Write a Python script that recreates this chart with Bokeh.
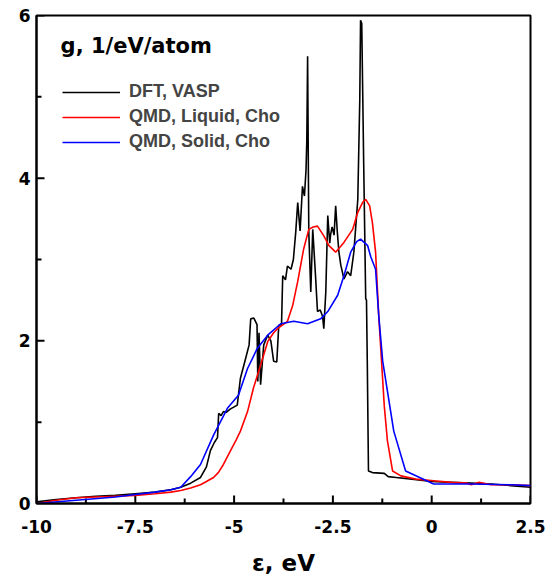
from bokeh.plotting import figure
from bokeh.models import FixedTicker, Legend, LegendItem, Label, Range1d
from bokeh.embed import file_html
from bokeh.resources import INLINE

x_ticks = [-10, -7.5, -5, -2.5, 0, 2.5]
x_minor = [-8.75, -6.25, -3.75, -1.25, 1.25]
x_tick_labels = ["-10", "-7.5", "-5", "-2.5", "0", "2.5"]
y_ticks = [0, 2, 4, 6]
y_minor = [1, 3, 5]

dft_x = [-10.0, -9.5, -9.0, -8.5, -8.0, -7.5, -7.0, -6.6, -6.35, -6.1, -5.85, -5.7, -5.6, -5.5, -5.42, -5.39,
         -5.33, -5.27, -5.2, -5.1, -4.92, -4.84, -4.71, -4.62, -4.58, -4.5, -4.46, -4.42, -4.4, -4.37, -4.33,
         -4.25, -4.15, -4.07, -4.0, -3.92, -3.87, -3.8, -3.77, -3.7, -3.65, -3.56, -3.5, -3.44, -3.39, -3.33,
         -3.27, -3.22, -3.18, -3.16, -3.14, -3.11, -3.06, -3.01, -2.94, -2.89, -2.82, -2.76, -2.73, -2.68,
         -2.63, -2.58, -2.56, -2.52, -2.47, -2.43, -2.39, -2.35, -2.3, -2.22, -2.13, -2.05, -1.97, -1.87,
         -1.82, -1.8, -1.77, -1.72, -1.67, -1.65, -1.63, -1.6, -1.5, -1.2, -1.1, -0.9, -0.5, 0.0, 0.5, 1.0,
         1.5, 2.0, 2.5]
dft_y = [0.02, 0.05, 0.07, 0.09, 0.10, 0.12, 0.14, 0.17, 0.20, 0.25, 0.32, 0.45, 0.65, 0.75, 0.81, 1.11,
         1.08, 1.13, 1.12, 1.16, 1.21, 1.54, 1.78, 1.95, 2.27, 2.28, 2.24, 2.20, 1.50, 2.10, 1.46,
         1.95, 2.07, 2.00, 1.75, 1.74, 2.19, 2.20, 2.80, 2.75, 2.92, 2.88, 3.00, 3.34, 3.70, 3.35,
         3.90, 3.78, 4.10, 4.47, 5.50, 3.34, 2.60, 3.37, 2.80, 2.36, 2.38, 2.30, 2.15, 2.60,
         3.54, 3.20, 3.30, 3.40, 3.30, 3.66, 3.35, 3.10, 2.93, 2.76, 2.85, 2.80, 3.09, 3.74,
         4.96, 5.94, 5.90, 4.15, 2.52, 2.50, 1.75, 0.40, 0.38, 0.37, 0.33, 0.32, 0.30, 0.27, 0.26, 0.25,
         0.24, 0.22, 0.20]

liq_x = [-10, -9.5, -9, -8.5, -8, -7.5, -7, -6.6, -6.35, -6.1, -5.85, -5.7, -5.52, -5.4, -5.27, -5.09,
         -4.95, -4.84, -4.66, -4.51, -4.33, -4.15, -4.0, -3.9, -3.65, -3.52, -3.39, -3.24, -3.11, -3.0,
         -2.89, -2.73, -2.6, -2.43, -2.22, -2.0, -1.87, -1.75, -1.67, -1.57, -1.5, -1.42, -1.34, -1.2,
         -1.12, -0.99, -0.78, -0.4, 0.05, 0.5, 0.9, 1.0, 1.2, 1.5, 2.0, 2.5]
liq_y = [0.0, 0.04, 0.07, 0.08, 0.09, 0.10, 0.12, 0.14, 0.16, 0.19, 0.23, 0.27, 0.32, 0.38, 0.48, 0.65,
         0.78, 0.89, 1.13, 1.42, 1.70, 1.99, 2.10, 2.15, 2.24, 2.43, 2.73, 3.13, 3.37, 3.40,
         3.41, 3.29, 3.17, 3.09, 3.21, 3.37, 3.58, 3.70, 3.74, 3.66, 3.45, 3.09, 2.31, 1.20,
         0.77, 0.40, 0.34, 0.30, 0.28, 0.26, 0.25, 0.23, 0.26, 0.23, 0.23, 0.22]

sol_x = [-10, -9, -8, -7.5, -7, -6.6, -6.35, -6.1, -5.85, -5.52, -5.17, -4.89, -4.66, -4.41, -4.15,
         -3.82, -3.49, -3.14, -2.81, -2.63, -2.38, -2.22, -2.05, -1.9, -1.8, -1.62, -1.54, -1.42, -1.34,
         -1.24, -0.96, -0.66, 0.05, 1.0, 2.0, 2.5]
sol_y = [0.0, 0.04, 0.08, 0.11, 0.14, 0.17, 0.20, 0.33, 0.48, 0.84, 1.17, 1.33, 1.66, 1.91, 2.07,
         2.21, 2.24, 2.21, 2.27, 2.36, 2.56, 2.80, 3.09, 3.22, 3.25, 3.17, 3.03, 2.88, 2.31,
         1.75, 0.89, 0.40, 0.24, 0.24, 0.23, 0.22]

TICK_FONT = "DejaVu Sans"
LEG_FONT = "Liberation Sans"

XMIN, XMAX, YMIN, YMAX = -10, 2.5, 0, 6
p = figure(width=548, height=578, output_backend="svg", toolbar_location=None,
           x_range=Range1d(XMIN, XMAX), y_range=Range1d(YMIN, YMAX),
           min_border_left=36, min_border_top=15, min_border_right=18, min_border_bottom=72)
p.xgrid.visible = False
p.ygrid.visible = False
p.outline_line_color = "black"
p.outline_line_width = 2
p.background_fill_color = "white"
p.border_fill_color = "white"

# inward ticks: 8 px major, 5 px minor (frame is 494 x 491 px)
xlen_major = (XMAX - XMIN) * 8 / 494
xlen_minor = (XMAX - XMIN) * 5 / 494
ylen_major = (YMAX - YMIN) * 8 / 491
ylen_minor = (YMAX - YMIN) * 5 / 491
p.segment(x0=x_ticks, y0=[YMIN] * len(x_ticks), x1=x_ticks, y1=[YMIN + ylen_major] * len(x_ticks),
          line_color="black", line_width=2)
p.segment(x0=x_minor, y0=[YMIN] * len(x_minor), x1=x_minor, y1=[YMIN + ylen_minor] * len(x_minor),
          line_color="black", line_width=2)
p.segment(x0=[XMIN] * len(y_ticks), y0=y_ticks, x1=[XMIN + xlen_major] * len(y_ticks), y1=y_ticks,
          line_color="black", line_width=2)
p.segment(x0=[XMIN] * len(y_minor), y0=y_minor, x1=[XMIN + xlen_minor] * len(y_minor), y1=y_minor,
          line_color="black", line_width=2)

l1 = p.line(dft_x, dft_y, line_color="black", line_width=1.6)
l2 = p.line(liq_x, liq_y, line_color="#ff0000", line_width=1.6)
l3 = p.line(sol_x, sol_y, line_color="#0000ff", line_width=1.6)

p.xaxis.ticker = FixedTicker(ticks=x_ticks, minor_ticks=[])
p.xaxis.major_label_overrides = {t: s for t, s in zip(x_ticks, x_tick_labels)}
p.yaxis.ticker = FixedTicker(ticks=y_ticks, minor_ticks=[])

for ax in (p.xaxis[0], p.yaxis[0]):
    ax.major_tick_in = 0
    ax.major_tick_out = 0
    ax.minor_tick_in = 0
    ax.minor_tick_out = 0
    ax.axis_line_width = 2
    ax.axis_line_color = "black"
    ax.major_label_text_font = TICK_FONT
    ax.major_label_text_font_style = "bold"
    ax.major_label_text_font_size = "17px"
    ax.major_label_text_color = "black"

p.xaxis.major_label_standoff = 16
p.yaxis.major_label_standoff = 6
p.xaxis.axis_label = "ε, eV"
p.xaxis.axis_label_text_font = TICK_FONT
p.xaxis.axis_label_text_font_style = "bold"
p.xaxis.axis_label_text_font_size = "23px"
p.xaxis.axis_label_standoff = 14
p.xaxis.axis_label_text_color = "black"

p.add_layout(Label(x=-9.39, y=5.63, text="g, 1/eV/atom", text_font=TICK_FONT, text_font_style="bold",
                   text_font_size="21px", text_color="black", text_baseline="alphabetic"))

legend = Legend(items=[LegendItem(label="DFT, VASP", renderers=[l1]),
                       LegendItem(label="QMD, Liquid, Cho", renderers=[l2]),
                       LegendItem(label="QMD, Solid, Cho", renderers=[l3])],
                location=(26, 351), margin=0, padding=0, spacing=4,
                glyph_width=58, glyph_height=20, label_standoff=9,
                label_text_font=LEG_FONT, label_text_font_style="bold", label_text_font_size="18px",
                border_line_color=None, background_fill_alpha=0)
p.add_layout(legend, "center")

open("out.html", "w").write(file_html(p, INLINE))
